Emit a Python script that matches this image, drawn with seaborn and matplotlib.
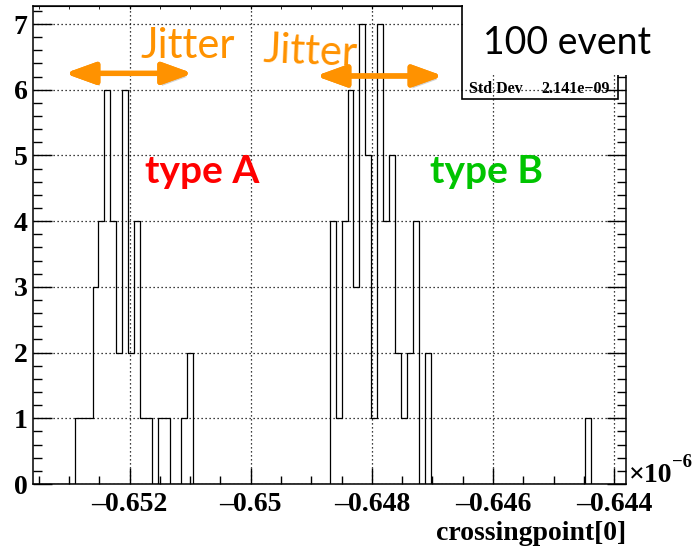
import matplotlib
matplotlib.use("Agg")
import matplotlib.pyplot as plt
import matplotlib.patheffects as pe
from matplotlib.patches import Rectangle
from matplotlib.ticker import MultipleLocator
import numpy as np
import pandas as pd
import seaborn as sns

# histogram range (units of 1e-6) and bin contents, 100 bins
x_low = -0.65359
x_high = -0.64380
counts = [0, 0, 0, 0, 0, 0, 0, 1, 1, 1, 3, 4, 6, 4, 2, 6, 2, 4, 1, 1,
          0, 1, 1, 0, 0, 1, 2, 0, 0, 0, 0, 0, 0, 0, 0, 0, 0, 0, 0, 0,
          0, 0, 0, 0, 0, 0, 0, 0, 0, 0, 4, 1, 4, 6, 3, 7, 5, 1, 7, 4,
          5, 2, 1, 2, 4, 0, 2, 0, 0, 0, 0, 0, 0, 0, 0, 0, 0, 0, 0, 0,
          0, 0, 0, 0, 0, 0, 0, 0, 0, 0, 0, 0, 0, 1, 0, 0, 0, 0, 0, 0]
x_ticks = [-0.652, -0.650, -0.648, -0.646, -0.644]
x_tick_labels = ["\u20130.652", "\u20130.65", "\u20130.648", "\u20130.646", "\u20130.644"]
y_ticks = [0, 1, 2, 3, 4, 5, 6, 7]
std_dev_text = "2.141e\u221209"

edges = np.linspace(x_low, x_high, len(counts) + 1)
df = pd.DataFrame({'crossingpoint': (edges[:-1] + edges[1:]) / 2, 'entries': counts})

plt.rcParams['font.family'] = ['Liberation Serif', 'DejaVu Serif']
plt.rcParams['font.weight'] = 'bold'

fig = plt.figure(figsize=(6.94, 5.46), dpi=100)
ax = fig.add_axes([33.2 / 694, 62 / 546, 593.1 / 694, 478 / 546])

sns.histplot(data=df, x='crossingpoint', weights='entries', bins=len(counts),
             binrange=(x_low, x_high), element='step', fill=False,
             color='black', linewidth=0.9, ax=ax, zorder=3)

ax.set_xlim(x_low, x_high)
ax.set_ylim(0, 7.275)
ax.set_xticks(x_ticks)
ax.set_xticklabels(x_tick_labels)
ax.set_yticks(y_ticks)
ax.xaxis.set_minor_locator(MultipleLocator(0.0005))
ax.yaxis.set_minor_locator(MultipleLocator(0.2))
ax.set_ylabel('')
ax.set_xlabel('crossingpoint[0]', loc='right', fontsize=20, fontweight='bold', labelpad=3)

ax.tick_params(axis='both', which='both', direction='in', labelsize=20, pad=4)
ax.tick_params(axis='x', which='both', pad=5.5)
ax.tick_params(axis='x', which='major', length=11.5, width=1)
ax.tick_params(axis='x', which='minor', length=5.5, width=1)
ax.tick_params(axis='y', which='major', length=13.5, width=1, right=True)
ax.tick_params(axis='y', which='minor', length=6.5, width=1, right=True)
for lab in ax.get_xticklabels() + ax.get_yticklabels():
    lab.set_fontweight('bold')

top = ax.secondary_xaxis('top')
top.set_xticks(x_ticks)
top.xaxis.set_minor_locator(MultipleLocator(0.0005))
top.tick_params(which='both', direction='in', length=2.5, labeltop=False)

ax.grid(True, which='major', linestyle=(0, (1, 2.2)), color='black', linewidth=0.9)
ax.set_axisbelow(True)
for s in ax.spines.values():
    s.set_linewidth(1.1)

# x10^-6 axis multiplier
fig.text(629 / 694, 1 - 481.7 / 546, "\u00d710", fontsize=20, fontweight='bold', va='baseline', ha='left')
fig.text(672 / 694, 1 - 467 / 546, "\u22126", fontsize=13.5, fontweight='bold', va='baseline', ha='left')

# stats box (partially hidden by slide text box)
fig.patches.append(Rectangle((461.7 / 694, 1 - 99.3 / 546), 156.6 / 694, 93.3 / 546,
                             transform=fig.transFigure, fill=False, edgecolor='black',
                             linewidth=1.2, zorder=2))
fig.text(469 / 694, 1 - 93 / 546, "Std Dev", fontsize=11.5, fontweight='bold', va='baseline', ha='left')
fig.text(610 / 694, 1 - 93 / 546, std_dev_text, fontsize=11.5, fontweight='bold', va='baseline', ha='right')
fig.patches.append(Rectangle((463 / 694, 1 - 75 / 546), 231 / 694, 75 / 546,
                             transform=fig.transFigure, facecolor='white', edgecolor='none', zorder=3))
fig.text(483.3 / 694, 1 - 54 / 546, "100 event", family=['Lato', 'DejaVu Sans'], fontweight='normal',
         fontsize=27, va='baseline', ha='left', zorder=4)

# annotations
orange = '#FF9200'
shadow = [pe.withSimplePatchShadow(offset=(1.5, -2.5), shadow_rgbFace='gray', alpha=0.35), pe.Normal()]
for x1, x2, y in [(0.0536, 0.2689, 0.859), (0.4768, 0.6909, 0.8536)]:
    ax.annotate('', xy=(x2, y), xytext=(x1, y), xycoords='axes fraction',
                arrowprops=dict(arrowstyle='<|-|>,head_length=1.8,head_width=0.65', color=orange,
                                lw=3.8, shrinkA=0, shrinkB=0, path_effects=shadow), zorder=5)

ax.text(0.180, 0.891, "Jitter", transform=ax.transAxes, family=['Lato', 'DejaVu Sans'],
        fontweight='normal', fontsize=30, color=orange, ha='left', va='baseline', zorder=2)
ax.text(0.3872, 0.8828, "Jitter", transform=ax.transAxes, family=['Lato', 'DejaVu Sans'],
        fontweight='normal', fontsize=30, color=orange, ha='left', va='baseline',
        rotation=-2.5, rotation_mode='anchor', zorder=2)
ax.text(0.1885, 0.629, "type A", transform=ax.transAxes, family=['Lato', 'DejaVu Sans'],
        fontweight='bold', fontsize=28, color='#FF0000', ha='left', va='baseline')
ax.text(0.669, 0.629, "type B", transform=ax.transAxes, family=['Lato', 'DejaVu Sans'],
        fontweight='bold', fontsize=28, color='#00C400', ha='left', va='baseline')

fig.savefig('out.png', dpi=100)
